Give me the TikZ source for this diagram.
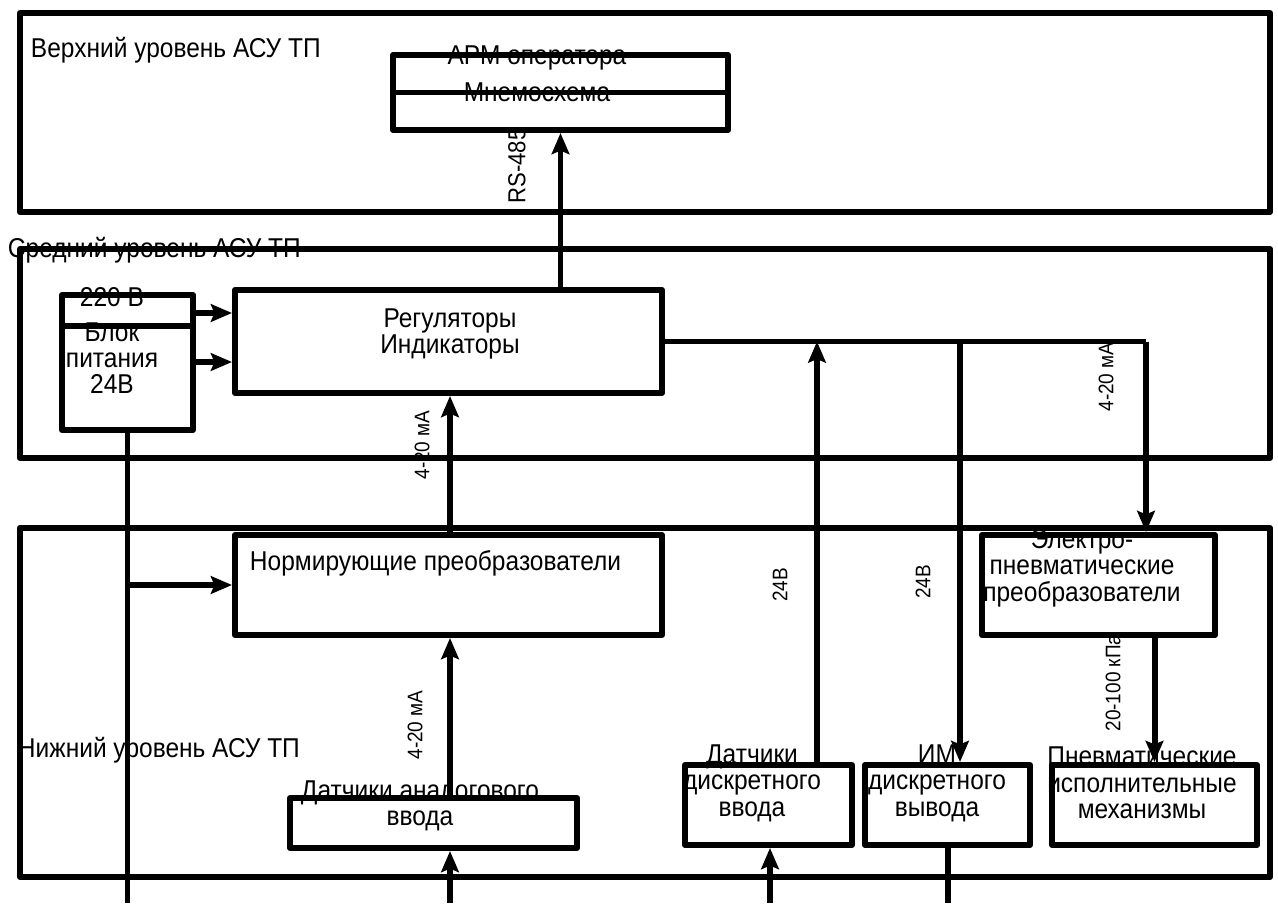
\documentclass[tikz,border=0pt]{standalone}
\usepackage{fontspec}
\setmainfont[FakeStretch=0.9]{Liberation Sans}
\usetikzlibrary{arrows.meta,calc}

\begin{document}
\begin{tikzpicture}[x=0.02cm, y=-0.02cm, line width=3.4pt, line join=round,
	blok/.style 2 args={draw, inner sep=0pt, minimum width=#1*0.02cm, minimum height=#2*0.02cm},
	txt/.style={font=\fontsize{15.5}{15}\selectfont, align=center, inner sep=0pt},
	lbl/.style={font=\fontsize{12}{12}\selectfont, rotate=90, inner sep=0pt},
	arr/.style={-{Stealth[length=12pt, width=10pt, inset=2pt]}}]

	% frame
	\useasboundingbox (0,0) rectangle (1278,903);

	% levels
	\foreach \top/\bot in {13/212, 249/458, 528/877} {
		\draw (20,\top) rectangle (1270,\bot);
	}

	% blocks
	\node[blok={335}{75}] (arm) at (560.5,92.5) {};
	\node[blok={131}{135}] (psu) at (127.5,362.5) {};
	\node[blok={427}{103}] (reg) at (448.5,341.5) {};
	\node[blok={427}{100}] (norm) at (448.5,585) {};
	\node[blok={287}{50}] (ana) at (433.5,823) {};
	\node[blok={167}{80}] (din) at (768.5,805) {};
	\node[blok={165}{80}] (dout) at (947.5,805) {};
	\node[blok={233}{100}] (ep) at (1098.5,585) {};
	\node[blok={205}{80}] (pim) at (1154.5,805) {};

	% dividers
	\draw (arm.west) -- (arm.east);
	\draw ($(psu.north west)!0.244!(psu.south west)$) -- ($(psu.north east)!0.244!(psu.south east)$);

	% coordinates
	\coordinate (pwr) at (127.5,903);
	\coordinate (inA) at (450,903);
	\coordinate (inD) at (770,903);
	\coordinate (outD) at (948,903);
	\coordinate (feedA) at (193,313);
	\coordinate (feedB) at (193,362);
	\coordinate (tapA) at (817,341.5);
	\coordinate (tapB) at (960,341.5);
	\coordinate (tapC) at (1146,341.5);

	% connections
	\draw[arr] (arm.south |- reg.north) -- (arm.south);
	\foreach \f in {feedA,feedB} {
		\draw[arr] (\f) -- (\f -| reg.west);
	}
	\draw (psu.south) -- (pwr);
	\draw[arr] (psu.south |- norm.west) -- (norm.west);
	\draw[arr] (norm.north -| inA) -- (reg.south -| inA);
	\draw[arr] (ana.north -| inA) -- (norm.south -| inA);
	\draw[arr] (inA) -- (ana.south -| inA);
	\draw (reg.east) -- (tapC);
	\draw[arr] (tapC) -- (tapC |- ep.north);
	\draw[arr] (din.north -| tapA) -- (tapA);
	\draw[arr] (tapB) -- (tapB |- dout.north);
	\draw[arr] (inD) -- (din.south -| inD);
	\draw (dout.south -| outD) -- (outD);
	\draw[arr] (ep.south -| pim.north) -- (pim.north);

	% level titles
	\node[txt, anchor=west] (upT) at (28,50) {Верхний уровень АСУ ТП};
	\node[txt, anchor=west] (midT) at (5,250) {Средний уровень АСУ ТП};
	\node[txt, anchor=west] (lowT) at (15,750) {Нижний уровень АСУ ТП};

	% block texts
	\node[txt] (armA) at (537,58) {АРМ оператора};
	\node[txt] (armB) at (537,92) {Мнемосхема};
	\node[txt] (psuA) at (112,297) {220 В};
	\node[txt] (psuB) at (112,358) {Блок\\питания\\24В};
	\node[txt] (regT) at (450,334) {Регуляторы\\Индикаторы};
	\node[txt, anchor=west] (normT) at (247,563) {Нормирующие преобразователи};
	\node[txt] (anaT) at (420,806) {Датчики аналогового\\ввода};
	\node[txt] (dinT) at (752,783) {Датчики\\дискретного\\ввода};
	\node[txt] (doutT) at (937,783) {ИМ\\дискретного\\вывода};
	\node[txt] (epT) at (1082,568) {Электро-\\пневматические\\преобразователи};
	\node[txt] (pimT) at (1142,783) {Пневматические\\исполнительные\\механизмы};

	% signal labels
	\node[lbl, font=\fontsize{14}{14}\selectfont] (rsL) at (517,166) {RS-485};
	\node[lbl] (iA) at (422,445) {4-20 мА};
	\node[lbl] (iB) at (415,725) {4-20 мА};
	\node[lbl] (iC) at (1106,377) {4-20 мА};
	\node[lbl] (uA) at (780,585) {24В};
	\node[lbl] (uB) at (923,582) {24В};
	\node[lbl] (pL) at (1113,683) {20-100 кПа};

\end{tikzpicture}
\end{document}
